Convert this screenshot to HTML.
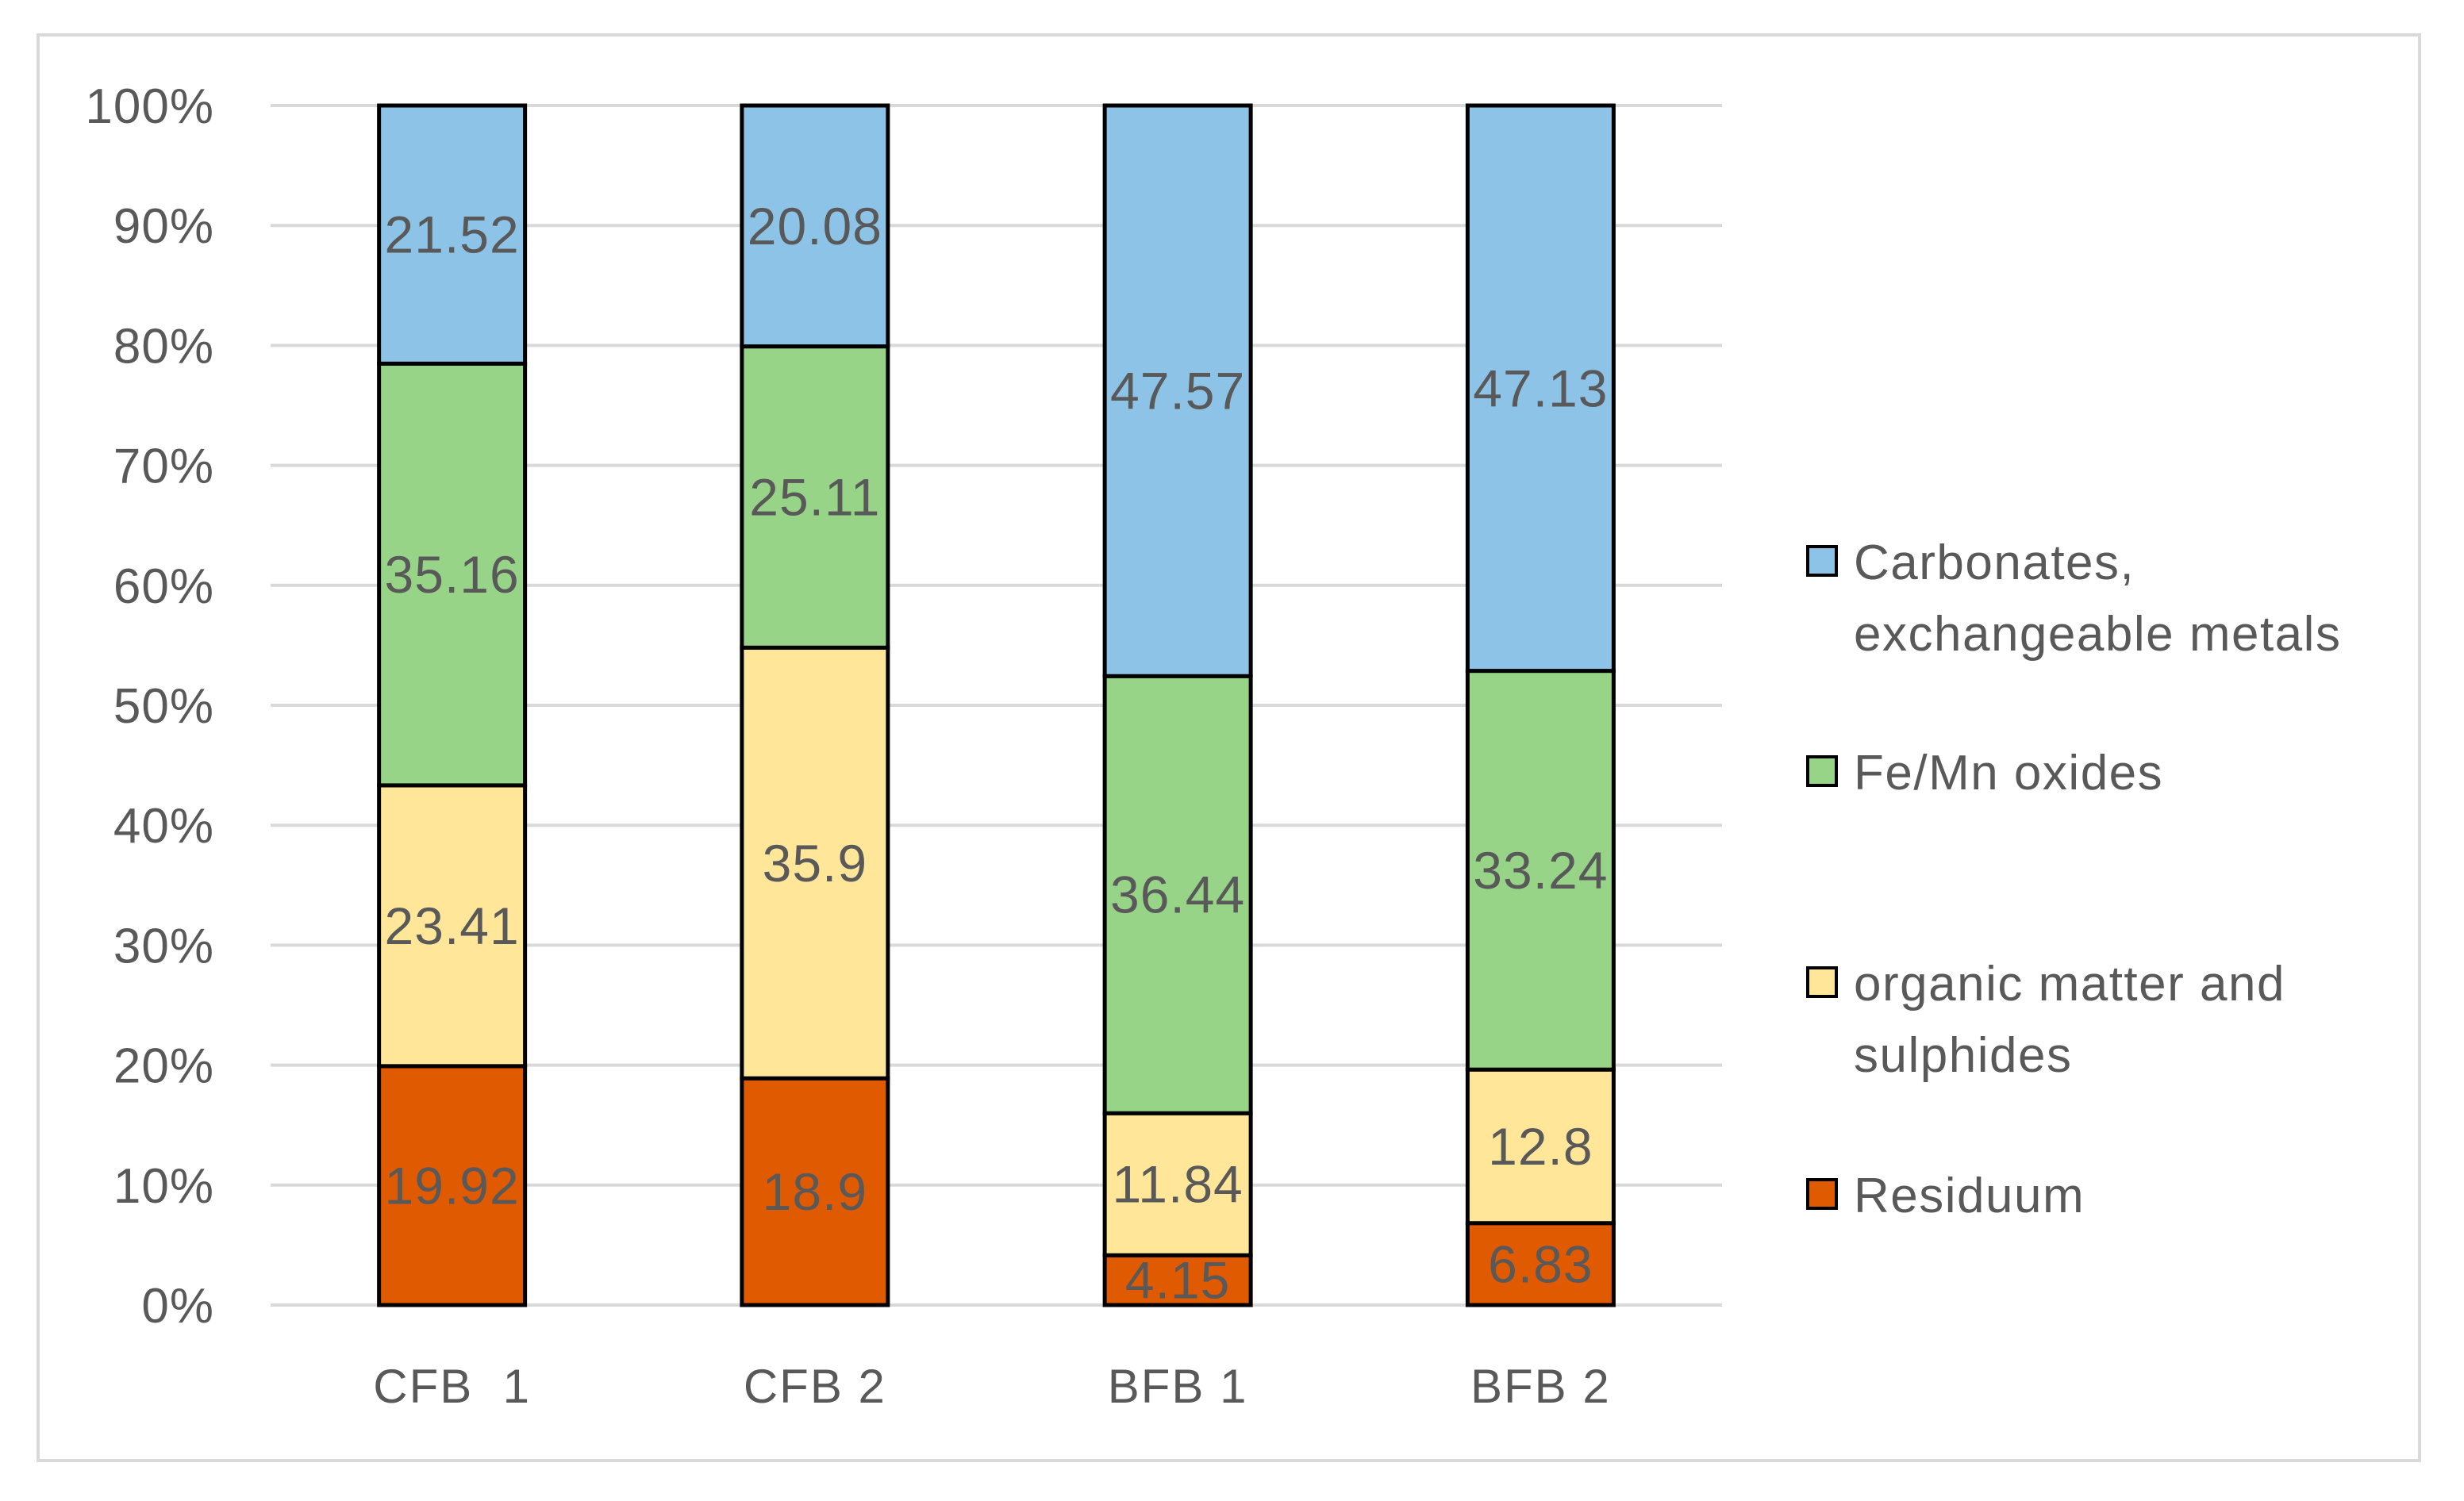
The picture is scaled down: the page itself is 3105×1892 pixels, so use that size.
<!DOCTYPE html>
<html><head><meta charset="utf-8"><style>
html,body{margin:0;padding:0;background:#fff;}
svg{display:block;font-family:"Liberation Sans",sans-serif;}
text{white-space:pre;}
</style></head><body>
<svg id="chart" width="3105" height="1892" viewBox="0 0 3105 1892">
<rect x="48" y="44" width="3001" height="1797" fill="#fff" stroke="#d9d9d9" stroke-width="4"/>
<g id="grid"></g><g id="bars"></g><g id="labels"></g><g id="legend"></g>
</svg>
<script>
const categories = ["CFB  1","CFB 2","BFB 1","BFB 2"];
const residuum = [19.92, 18.9, 4.15, 6.83];
const organic = [23.41, 35.9, 11.84, 12.8];
const feMn = [35.16, 25.11, 36.44, 33.24];
const carbonates = [21.52, 20.08, 47.57, 47.13];
const tickLabels = ["0%","10%","20%","30%","40%","50%","60%","70%","80%","90%","100%"];
const seriesNames = ["Residuum","organic matter and\nsulphides","Fe/Mn oxides","Carbonates,\nexchangeable metals"];
const seriesColors = ["#DF5A00","#FFE699","#97D488","#8CC3E7"];

const NS="http://www.w3.org/2000/svg";
const X0=341, X1=2170, Y0=1645, Y100=133, BW=184;
const yScale = p => Y0 - (Y0-Y100)*p/100;
const xCenter = i => X0 + (X1-X0)*(i+0.5)/categories.length;
function mk(tag, attrs, parent){const e=document.createElementNS(NS,tag);for(const k in attrs)e.setAttribute(k,attrs[k]);parent.appendChild(e);return e;}
const grid=document.getElementById('grid'), bars=document.getElementById('bars'), labels=document.getElementById('labels'), legend=document.getElementById('legend');

tickLabels.forEach((t,i)=>{
  const y=yScale(i*10);
  const l=mk('line',{x1:X0,x2:X1,y1:y,y2:y,stroke:'#d9d9d9','stroke-width':4},grid);
  
  
  const tx=mk('text',{x:270,y:y+22,'text-anchor':'end','font-size':62,'letter-spacing':1,fill:'#595959'},labels);
  tx.textContent=t;
  
  
});

const series=[residuum,organic,feMn,carbonates];
categories.forEach((c,i)=>{
  const total=series.reduce((s,a)=>s+a[i],0);
  let cum=0;
  const cx=xCenter(i);
  series.forEach((arr,si)=>{
    const p0=cum/total*100, p1=(cum+arr[i])/total*100;
    cum+=arr[i];
    const yt=yScale(p1), yb=yScale(p0);
    const r=mk('rect',{x:cx-BW/2,y:yt,width:BW,height:yb-yt,fill:seriesColors[si],stroke:'#000','stroke-width':5},bars);
    
    
    const v=mk('text',{x:cx,y:(yt+yb)/2+23,'text-anchor':'middle','font-size':66,'letter-spacing':1,fill:'#595959'},labels);
    v.textContent=String(arr[i]);
    
    
  });
  const ct=mk('text',{x:cx,y:1768,'text-anchor':'middle','font-size':60,'letter-spacing':2,fill:'#595959'},labels);
  ct.textContent=c;
  
  
});

const legendY=[1507,1240,974,709];
seriesNames.forEach((n,si)=>{
  const y=legendY[si];
  const sq=mk('rect',{x:2278,y:y-20,width:36,height:36,fill:seriesColors[si],stroke:'#000','stroke-width':4},legend);
  
  
  n.split('\n').forEach((line,li)=>{
    const t=mk('text',{x:2336,y:y+21+li*90,'font-size':62,'letter-spacing':1.5,fill:'#595959'},legend);
    t.textContent=line;
    
    
  });
});
</script>
</body></html>
